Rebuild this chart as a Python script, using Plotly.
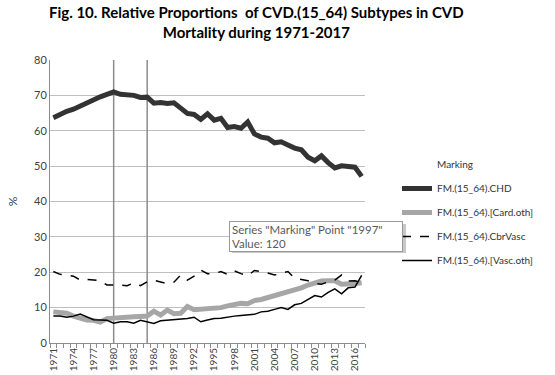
import plotly.graph_objects as go

years = list(range(1971, 2018))

chd = [63.7, 64.8, 65.5, 66.1, 67.0, 68.0, 68.9, 69.6, 70.3, 71.0,
       70.3, 70.1, 70.0, 69.4, 69.5, 67.8, 68.0, 67.7, 67.9, 66.4,
       64.9, 64.6, 63.2, 64.8, 63.0, 63.5, 60.9, 61.2, 60.7, 62.5,
       59.1, 58.2, 57.9, 56.6, 56.9, 56.0, 55.1, 54.6, 52.5, 51.5,
       52.9, 51.0, 49.5, 50.1, 49.8, 49.7, 47.1]

card_oth = [8.8, 8.6, 8.4, 7.6, 6.9, 6.5, 6.4, 5.9, 6.9, 7.1,
            7.3, 7.5, 7.4, 7.5, 7.6, 9.0, 7.9, 9.3, 8.3, 8.4,
            10.3, 9.4, 9.5, 9.6, 10.0, 10.0, 10.5, 11.0, 11.2, 11.1,
            12.0, 12.3, 12.8, 13.5, 14.0, 14.5, 14.8, 15.6, 16.4, 17.0,
            17.5, 17.6, 17.6, 16.6, 16.6, 16.8, 17.0]

cbrvasc = [20.2, 19.4, 19.2, 18.9, 17.8, 18.0, 17.8, 17.6, 16.4, 16.5,
           16.4, 16.2, 17.0, 16.2, 17.3, 17.7, 17.3, 16.8, 17.2, 19.2,
           17.8, 18.9, 20.6, 19.6, 19.6, 20.2, 19.4, 20.4, 19.6, 19.0,
           20.5, 20.2, 19.8, 19.2, 19.6, 20.2, 18.3, 18.0, 17.6, 16.8,
           16.6, 17.3, 17.8, 19.2, 17.5, 17.6, 17.0]

vasc_oth = [7.6, 7.6, 7.3, 7.6, 8.2, 7.3, 6.6, 6.5, 6.4, 5.6,
            6.0, 6.0, 5.6, 6.4, 6.0, 5.5, 6.3, 6.4, 6.5, 6.7,
            6.9, 7.3, 6.0, 6.5, 6.9, 7.0, 7.4, 7.6, 7.8, 8.0,
            8.1, 8.8, 9.0, 9.5, 10.0, 9.5, 10.8, 11.2, 12.2, 13.4,
            13.0, 14.3, 15.3, 13.9, 15.6, 15.8, 19.1]

marking_years = [1980, 1985]
marking_value = 120

series_names = ["FM.(15_64).CHD", "FM.(15_64).[Card.oth]",
                "FM.(15_64).CbrVasc", "FM.(15_64).[Vasc.oth]"]

x_tick_years = list(range(1971, 2018, 3))
y_ticks = list(range(0, 90, 10))

FONT = "Lato"
W, H = 555, 375
L, R, T, B = 50, 365, 60, 343


def px_x(p):
    return (p - L) / (R - L)


def px_y(p):
    return (B - p) / (B - T)


fig = go.Figure()

# Marking series (vertical lines)
mx, my = [], []
for yr in marking_years:
    mx += [yr, yr, None]
    my += [0, marking_value, None]
fig.add_trace(go.Scatter(x=mx, y=my, mode="lines",
                         line=dict(color="#8c8c8c", width=1.5),
                         showlegend=False, hoverinfo="skip"))
# legend entry "Marking" without symbol
fig.add_trace(go.Scatter(x=[None], y=[None], mode="lines", name="Marking",
                         line=dict(color="rgba(0,0,0,0)", width=0),
                         legendgroup="m"))

styles = [
    dict(color="#333333", width=5),
    dict(color="#a6a6a6", width=5),
    dict(color="#000000", width=1.5, dash="dash"),
    dict(color="#000000", width=1.5),
]
for name, vals, st, g in zip(series_names, [chd, card_oth, cbrvasc, vasc_oth],
                             styles, ["a", "b", "c", "d"]):
    fig.add_trace(go.Scatter(x=years, y=vals, mode="lines", name=name,
                             line=st, legendgroup=g))

# title as annotation
fig.add_annotation(xref="paper", yref="paper", x=px_x(256), y=px_y(1),
                   xanchor="center", yanchor="top", showarrow=False,
                   text="<b>Fig. 10. Relative Proportions  of CVD.(15_64) Subtypes in CVD<br>Mortality during 1971-2017</b>",
                   font=dict(family=FONT, size=15, color="#000000"))

# tooltip shadow
fig.add_shape(type="rect", xref="paper", yref="paper",
              x0=px_x(232), x1=px_x(406), y0=px_y(253), y1=px_y(224),
              fillcolor="rgba(0,0,0,0.22)", line=dict(width=0), layer="above")

fig.add_annotation(xref="paper", yref="paper", x=px_x(229), y=px_y(221),
                   xanchor="left", yanchor="top", align="left",
                   text='Series "Marking" Point "1997"<br>Value: 120',
                   showarrow=False, bgcolor="white", bordercolor="#9a9a9a",
                   borderwidth=1, borderpad=2, width=168, height=25,
                   font=dict(family=FONT, size=11.5, color="#5a5a5a"))

fig.update_layout(
    width=W, height=H,
    margin=dict(l=L, r=W - R, t=T, b=H - B, autoexpand=False),
    paper_bgcolor="white", plot_bgcolor="white",
    font=dict(family=FONT, size=10, color="#404040"),
    xaxis=dict(range=[1970.5, 2017.5], tickmode="array", tickvals=x_tick_years,
               ticktext=[str(v) for v in x_tick_years], tickangle=-90,
               ticks="", showgrid=False, showline=True, linecolor="#8c8c8c",
               linewidth=1, zeroline=False, automargin=False,
               tickfont=dict(family=FONT, size=10, color="#404040"),
               minor=dict(ticks="outside", tick0=1970.5, dtick=1, ticklen=4,
                          tickcolor="#8c8c8c", showgrid=False)),
    yaxis=dict(range=[0, 80], tickvals=y_ticks, showgrid=True,
               gridcolor="#bfbfbf", gridwidth=1, showline=True,
               linecolor="#8c8c8c", zeroline=False, ticks="", automargin=False,
               title=dict(text="%", standoff=13,
                          font=dict(family=FONT, size=12, color="#404040")),
               tickfont=dict(family=FONT, size=11, color="#404040")),
    legend=dict(x=px_x(397), y=px_y(150), xanchor="left", yanchor="top",
                bgcolor="rgba(0,0,0,0)", tracegroupgap=5,
                font=dict(family=FONT, size=10, color="#333333")),
)

fig.write_html("out.html", config={"displayModeBar": False},
               post_script="document.body.style.margin='0';document.body.style.padding='0';")
